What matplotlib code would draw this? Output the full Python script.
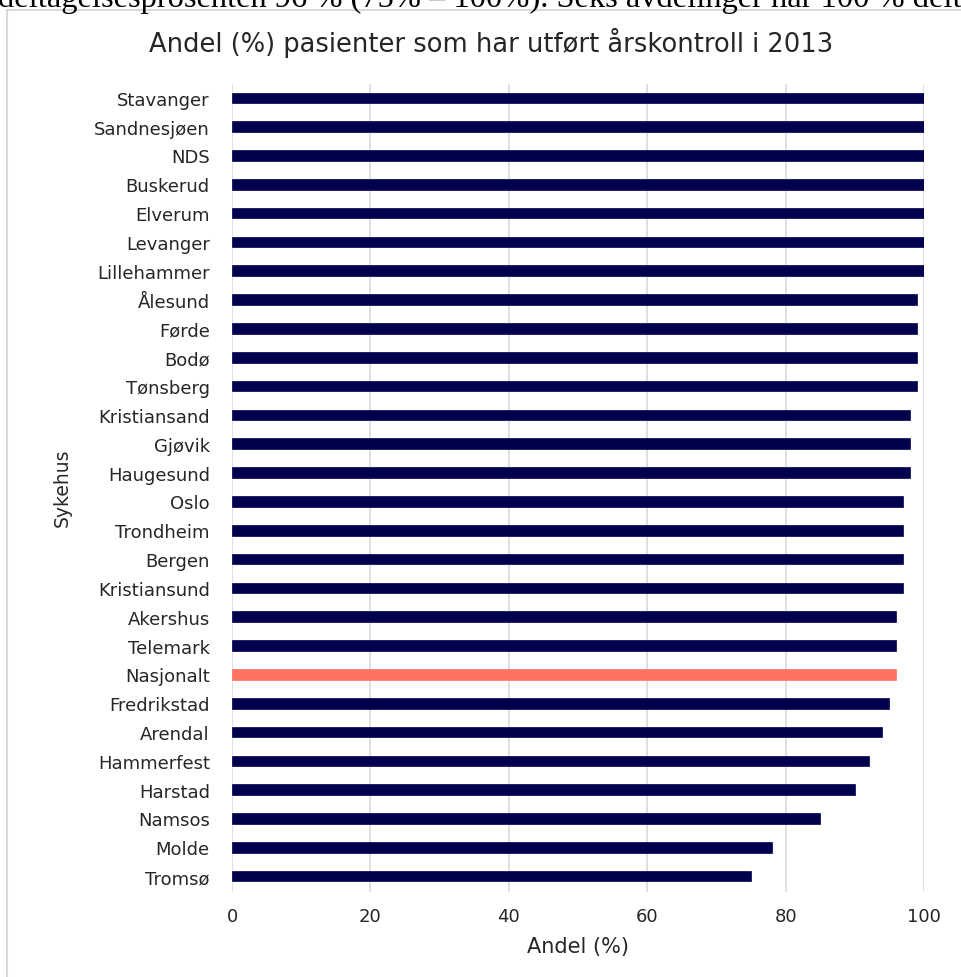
import matplotlib.pyplot as plt
from matplotlib.patches import Rectangle

sykehus = ["Stavanger", "Sandnesjøen", "NDS", "Buskerud", "Elverum", "Levanger",
           "Lillehammer", "Ålesund", "Førde", "Bodø", "Tønsberg", "Kristiansand",
           "Gjøvik", "Haugesund", "Oslo", "Trondheim", "Bergen", "Kristiansund",
           "Akershus", "Telemark", "Nasjonalt", "Fredrikstad", "Arendal",
           "Hammerfest", "Harstad", "Namsos", "Molde", "Tromsø"]
andel = [100, 100, 100, 100, 100, 100, 100, 99, 99, 99, 99, 98, 98, 98,
         97, 97, 97, 97, 96, 96, 96, 95, 94, 92, 90, 85, 78, 75]
xticks = [0, 20, 40, 60, 80, 100]

W, H = 961, 978
fig = plt.figure(figsize=(W / 100, H / 100), dpi=100)
fig.patch.set_facecolor("white")

# body text above the chart, cut off at the top edge as in the source page
fig.text(-2 / W, 1 - 7 / H,
         "deltagelsesprosenten 96 % (75% – 100%). Seks avdelinger har 100 % deltagelse",
         family="Liberation Serif", fontsize=23.4, ha="left", va="baseline")

# chart frame
fig.patches.append(Rectangle((7 / W, -0.05), 1.2, 1 - 11 / H + 0.05,
                             transform=fig.transFigure, fill=False,
                             edgecolor="#d9d9d9", linewidth=1.5))

ax = fig.add_axes([232 / W, 1 - 893 / H, (924 - 232) / W, (893 - 85) / H])

colors = ["#ff7262" if s == "Nasjonalt" else "#00004f" for s in sykehus]
ypos = list(range(len(sykehus)))
ax.barh(ypos, andel, height=0.37, color=colors, edgecolor=colors, linewidth=0.5, zorder=3)

ax.set_xlim(0, 100)
ax.set_ylim(len(sykehus) - 0.45, -0.48)
ax.set_xticks(xticks)
ax.set_yticks(ypos)
ax.set_yticklabels(sykehus)
ax.grid(axis="x", color="#d9d9d9", linewidth=1.2, zorder=0)
for s in ax.spines.values():
    s.set_visible(False)
ax.tick_params(axis="both", length=0, labelsize=13, colors="#262626")
ax.tick_params(axis="y", pad=16)
ax.tick_params(axis="x", pad=11)

ax.set_xlabel("Andel (%)", fontsize=15, color="#262626", labelpad=8)
ax.set_ylabel("Sykehus", fontsize=13.5, color="#262626", va="center")
ax.yaxis.set_label_coords((62 - 232) / 692, 1 - (488 - 85) / 808)

fig.text(491 / W, 1 - 52 / H, "Andel (%) pasienter som har utført årskontroll i 2013",
         fontsize=18.5, ha="center", va="baseline", color="#262626")

fig.savefig("out.png", dpi=100)
